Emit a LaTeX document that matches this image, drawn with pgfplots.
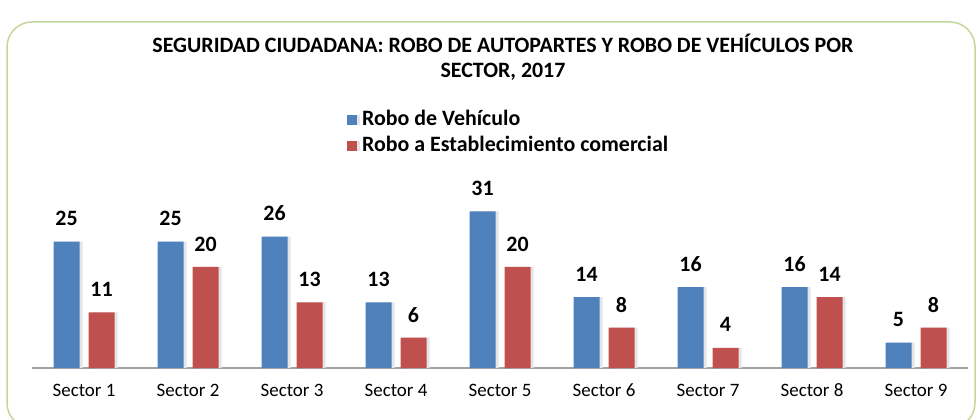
\documentclass[border=0pt]{standalone}
\usepackage{pgfplots}
\pgfplotsset{compat=1.18}
\usepackage{fontspec}
\setmainfont{Carlito}
\definecolor{vehblue}{HTML}{4F81BD}
\definecolor{estred}{HTML}{C0504D}
\definecolor{framegreen}{HTML}{C4D79B}
\definecolor{axisgray}{HTML}{A0A0A0}

\begin{document}
\begin{tikzpicture}
\path[use as bounding box] (0,0) rectangle (979bp,420bp);
\begin{scope}
  \clip (0,0) rectangle (979bp,420bp);
  \draw[framegreen, line width=1.5bp, rounded corners=25bp] (7bp,-8bp) rectangle (975bp,398bp);
\end{scope}
\node[font=\bfseries\fontsize{22}{25}\selectfont, align=center] at (503bp,363bp)
  {SEGURIDAD CIUDADANA: ROBO DE AUTOPARTES Y ROBO DE VEHÍCULOS POR\\SECTOR, 2017};

\begin{axis}[
  at={(32bp,52bp)}, anchor=south west,
  scale only axis, width=936bp, height=182bp,
  ybar, bar width=26bp,
  xmin=-0.5, xmax=8.5, ymin=0, ymax=36,
  clip=false,
  axis x line*=bottom, axis y line=none,
  x axis line style={axisgray, line width=1.5bp, -},
  xtick=data,
  xticklabels={Sector 1,Sector 2,Sector 3,Sector 4,Sector 5,Sector 6,Sector 7,Sector 8,Sector 9},
  major tick length=0pt,
  xticklabel style={font=\fontsize{19}{23}\selectfont, anchor=center, yshift=-22bp},
  /pgf/number format/assume math mode=true,
  nodes near coords,
  nodes near coords style={font=\bfseries\fontsize{22}{26}\selectfont, anchor=center, yshift=23bp, text=black},
  legend style={at={(0.3365,1.423)}, anchor=north west, draw=none, fill=none,
    font=\bfseries\fontsize{22}{26}\selectfont, inner sep=0pt, row sep=4bp,
    nodes={inner sep=0pt, text height=16bp, text depth=6bp}},
  legend cell align=left,
  legend image code/.code={\fill[#1] (0bp,-5bp) rectangle (10bp,5bp); \path (15bp,0bp);},
]
\addplot[fill=vehblue, draw=none, bar shift=-17.5bp,
  preaction={fill=black!10, draw=none, transform canvas={xshift=3bp}}] coordinates {
  (0,25) (1,25) (2,26) (3,13) (4,31) (5,14) (6,16) (7,16) (8,5)};
\addplot[fill=estred, draw=none, bar shift=17.5bp,
  preaction={fill=black!10, draw=none, transform canvas={xshift=3bp}}] coordinates {
  (0,11) (1,20) (2,13) (3,6) (4,20) (5,8) (6,4) (7,14) (8,8)};
\legend{Robo de Vehículo, Robo a Establecimiento comercial}
\end{axis}
\end{tikzpicture}
\end{document}
